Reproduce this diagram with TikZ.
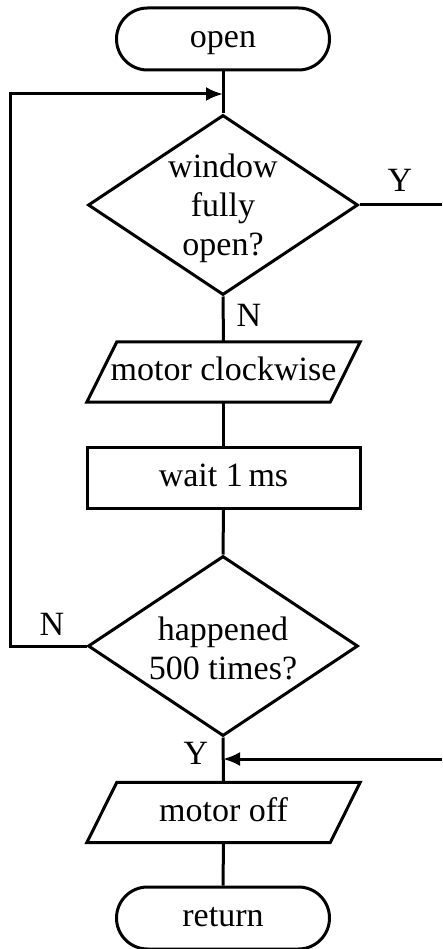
\documentclass[tikz,border=0pt]{standalone}
\usepackage{fontspec}
\setmainfont{Liberation Serif}
\usetikzlibrary{shapes.geometric,shapes.misc,arrows.meta,calc}
\begin{document}
\begin{tikzpicture}[x=1pt,y=-1pt,
  every node/.style={font=\fontsize{34}{39}\selectfont, text=black, inner sep=0pt},
  oneline/.style={text height=23pt, text depth=6pt},
  flow/.style={line width=3pt, draw=black},
  terminal/.style={rounded rectangle, flow, oneline, minimum width=213pt, minimum height=62pt},
  decision/.style={diamond, flow, minimum width=270pt, minimum height=180pt, aspect=1.5},
  process/.style={rectangle, flow, oneline, minimum width=273pt, minimum height=61pt},
  iobox/.style={rectangle, oneline, minimum width=243pt, minimum height=60pt},
  link/.style={line width=3pt, draw=black},
  arr/.style={link, -{Latex[length=17pt,width=14pt]}},
  lbl/.style={font=\fontsize{34}{39}\selectfont}
]
\useasboundingbox (0,0) rectangle (442,949);

% blocks
\node[terminal] (open) at (223,39) {open};
\node[decision, label={[align=center, yshift=-3pt]center:window\\fully\\open?}] (d1) at (223,205) {};
\node[iobox] (p1) at (223.5,372) {motor clockwise};
\node[process] (wait) at (223.5,477.5) {wait 1\,ms};
\node[decision, label={[align=center, yshift=-2pt]center:happened\\500 times?}] (d2) at (223,646) {};
\node[iobox] (p2) at (223.5,812.5) {motor off};
\node[terminal] (ret) at (223,918) {return};

% parallelogram outlines around the I/O nodes
\foreach \n in {p1,p2}{
  \draw[flow, line join=miter]
    ($(\n.south west)+(-15,0)$) -- ($(\n.north west)+(15,0)$) --
    ($(\n.north east)+(15,0)$) -- ($(\n.south east)+(-15,0)$) -- cycle;
}

% junction and free-end points
\coordinate (j1) at (223,94);
\coordinate (j2) at (223,759);
\coordinate (yout) at (442,205);
\coordinate (yin) at (442,759);

% main flow
\draw[link] (open.south) -- (d1.north);
\draw[link] (d1.south) -- (p1.north);
\draw[link] (p1.south) -- (wait.north);
\draw[link] (wait.south) -- (d2.north);
\draw[link] (d2.south) -- (p2.north);
\draw[link] (p2.south) -- (ret.north);

% loop back and exits
\draw[arr] (d2.west) -- ++(-76,0) |- (j1);
\draw[link] (d1.east) -- (yout);
\draw[arr] (yin) -- (j2);

% branch labels
\node[lbl] (y1) at (400,180) {Y};
\node[lbl] (n1) at (249,315) {N};
\node[lbl] (n2) at (52,624) {N};
\node[lbl] (y2) at (196,753) {Y};
\end{tikzpicture}
\end{document}
